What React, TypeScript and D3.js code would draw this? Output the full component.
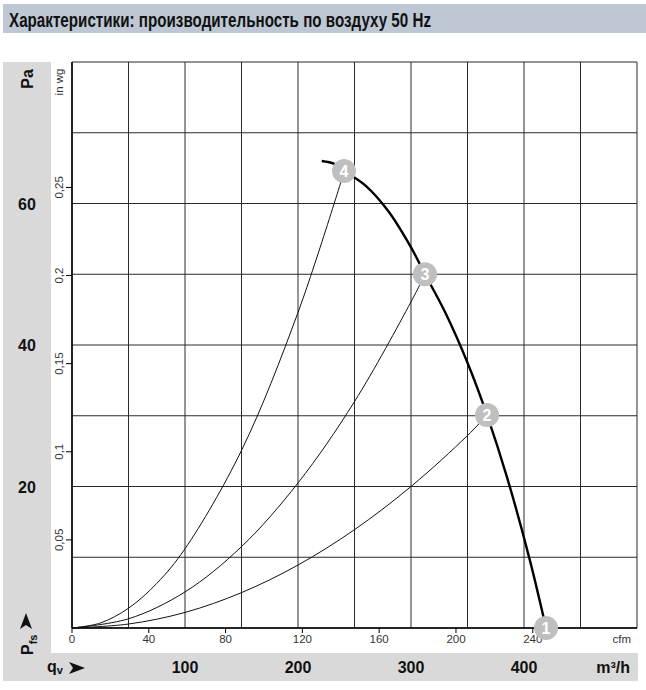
import React from "react";
import * as d3 from "d3";

const W = 646;
const H = 690;

// m³/h and Pa scale domains
const qDomain = [0, 500];
const pDomain = [0, 80];
const qTicks = [100, 200, 300, 400];
const pTicks = [20, 40, 60];
const qGrid = [0, 50, 100, 150, 200, 250, 300, 350, 400, 450, 500];
const pGrid = [0, 10, 20, 30, 40, 50, 60, 70, 80];
const cfmTicks = [0, 40, 80, 120, 160, 200, 240];
const inwgTicks = [0.05, 0.1, 0.15, 0.2, 0.25];
const inwgLabels = ["0,05", "0,1", "0,15", "0,2", "0,25"];

// fan characteristic curve (m³/h, Pa)
const fanQ = [221, 232, 241, 260, 280, 300, 312.4, 330, 350, 367.3, 385, 405, 419.5];
const fanP = [66.0, 65.6, 64.6, 62.5, 58.9, 53.8, 50.0, 44.7, 37.5, 30.1, 21.3, 9.7, 0];

// system curves (m³/h, Pa) through operating points
const sys4Q = [0, 25, 50, 75, 100, 150, 200, 241];
const sys4P = [0, 0.7, 2.8, 6.3, 11.2, 25.1, 44.6, 64.6];
const sys3Q = [0, 50, 100, 150, 200, 250, 300, 312.4];
const sys3P = [0, 1.3, 5.1, 11.5, 20.5, 32.0, 46.1, 50.0];
const sys2Q = [0, 50, 100, 150, 200, 250, 300, 350, 367.3];
const sys2P = [0, 0.56, 2.2, 5.0, 8.9, 13.9, 20.0, 27.2, 30.1];

// operating points
const opLabels = ["1", "2", "3", "4"];
const opQ = [419.5, 367.3, 312.4, 240.7];
const opP = [0, 30.1, 50.0, 64.6];

const TITLE = "Характеристики: производительность по воздуху 50 Hz";

export default function App() {
  const left = 72, right = 637, top = 62, bottom = 628;
  const x = d3.scaleLinear().domain(qDomain).range([left, right]);
  const y = d3.scaleLinear().domain(pDomain).range([bottom, top]);
  const xCfm = d3.scaleLinear().domain([0, 500 / 1.699]).range([left, right]);
  const yIn = d3.scaleLinear().domain([0, 80 / 249.09]).range([bottom, top]);

  const line = d3
    .line<[number, number]>()
    .x((d) => x(d[0]))
    .y((d) => y(d[1]))
    .curve(d3.curveCatmullRom.alpha(0.5));

  const zip = (a: number[], b: number[]) => a.map((v, i) => [v, b[i]] as [number, number]);

  const gridColor = "#2a2a2a";
  const font = "'Liberation Sans', Arial, sans-serif";

  const arrowRight = (cx: number, cy: number) =>
    `M${cx - 8},${cy - 6} L${cx + 8},${cy} L${cx - 8},${cy + 6} L${cx - 4},${cy} Z`;
  const arrowUp = (cx: number, cy: number) =>
    `M${cx - 6},${cy + 8} L${cx},${cy - 8} L${cx + 6},${cy + 8} L${cx},${cy + 4} Z`;

  return (
    <svg
      width={W}
      height={H}
      style={{ position: "absolute", left: 0, top: 0, background: "#fff" }}
      fontFamily={font}
    >
      {/* title band */}
      <rect x={3} y={4} width={643} height={29} fill="#bec8d4" />
      <text
        x={9}
        y={26.5}
        fontSize={21}
        fontWeight="bold"
        fontFamily="'Liberation Sans Narrow', 'Arial Narrow', 'Liberation Sans', Arial, sans-serif"
        fill="#111"
        textLength={422}
        lengthAdjust="spacingAndGlyphs"
      >
        {TITLE}
      </text>

      {/* gray panels */}
      <rect x={3} y={62} width={48} height={619} fill="#d9d9d9" />
      <rect x={3} y={653} width={635} height={28} fill="#d9d9d9" />

      {/* grid */}
      {qGrid.map((q) => (
        <line key={"gx" + q} x1={x(q)} x2={x(q)} y1={top} y2={bottom} stroke={gridColor} strokeWidth={1} />
      ))}
      {pGrid.map((p) => (
        <line key={"gy" + p} x1={left} x2={right} y1={y(p)} y2={y(p)} stroke={gridColor} strokeWidth={1} />
      ))}
      <line x1={left} x2={left} y1={top} y2={bottom} stroke="#000" strokeWidth={1.5} />
      <line x1={left} x2={right} y1={bottom} y2={bottom} stroke="#000" strokeWidth={1.5} />

      {/* in wg ticks */}
      {inwgTicks.map((t, i) => (
        <g key={"iw" + t}>
          <line x1={left - 6} x2={left} y1={yIn(t)} y2={yIn(t)} stroke="#000" strokeWidth={1} />
          <text
            transform={`translate(${63},${yIn(t)}) rotate(-90)`}
            textAnchor="middle"
            fontSize={11.5}
            fill="#333"
          >
            {inwgLabels[i]}
          </text>
        </g>
      ))}
      <text transform={`translate(63,82) rotate(-90)`} textAnchor="middle" fontSize={11.5} fill="#333">
        in wg
      </text>

      {/* cfm ticks */}
      {cfmTicks.map((t) => (
        <g key={"cf" + t}>
          <line x1={xCfm(t)} x2={xCfm(t)} y1={bottom} y2={bottom + 5} stroke="#000" strokeWidth={1} />
          <text x={xCfm(t)} y={643} textAnchor="middle" fontSize={11.5} fill="#333">
            {t}
          </text>
        </g>
      ))}
      <text x={631} y={643} textAnchor="end" fontSize={11.5} fill="#333">
        cfm
      </text>

      {/* Pa labels */}
      <text transform={`translate(33,79) rotate(-90)`} textAnchor="middle" fontSize={16} fontWeight="bold" fill="#111">
        Pa
      </text>
      {pTicks.map((p) => (
        <text key={"pa" + p} x={27} y={y(p) + 6} textAnchor="middle" fontSize={16} fontWeight="bold" fill="#111">
          {p}
        </text>
      ))}
      <path d={arrowUp(26, 621)} fill="#111" />
      <text transform={`translate(33,655) rotate(-90)`} fontSize={16} fontWeight="bold" fill="#111">
        P
        <tspan fontSize={11} dy={4}>fs</tspan>
      </text>

      {/* m³/h labels */}
      {qTicks.map((q) => (
        <text key={"q" + q} x={x(q)} y={673} textAnchor="middle" fontSize={16} fontWeight="bold" fill="#111">
          {q}
        </text>
      ))}
      <text x={630} y={673} textAnchor="end" fontSize={16} fontWeight="bold" fill="#111">
        m³/h
      </text>
      <text x={47} y={672} fontSize={16} fontWeight="bold" fill="#111">
        q<tspan fontSize={11} dy={2}>v</tspan>
      </text>
      <path d={arrowRight(77, 668)} fill="#111" />

      {/* system curves */}
      {[zip(sys2Q, sys2P), zip(sys3Q, sys3P), zip(sys4Q, sys4P)].map((pts, i) => (
        <path key={"sys" + i} d={line(pts) || ""} fill="none" stroke="#111" strokeWidth={1} />
      ))}

      {/* fan curve */}
      <path d={line(zip(fanQ, fanP)) || ""} fill="none" stroke="#000" strokeWidth={2.4} />

      {/* operating points */}
      {opLabels.map((l, i) => (
        <g key={"op" + l}>
          <circle cx={x(opQ[i])} cy={y(opP[i])} r={12} fill="#bfbfbf" />
          <text
            x={x(opQ[i])}
            y={y(opP[i]) + 6}
            textAnchor="middle"
            fontSize={16}
            fontWeight="bold"
            fill="#fff"
          >
            {l}
          </text>
        </g>
      ))}
    </svg>
  );
}
